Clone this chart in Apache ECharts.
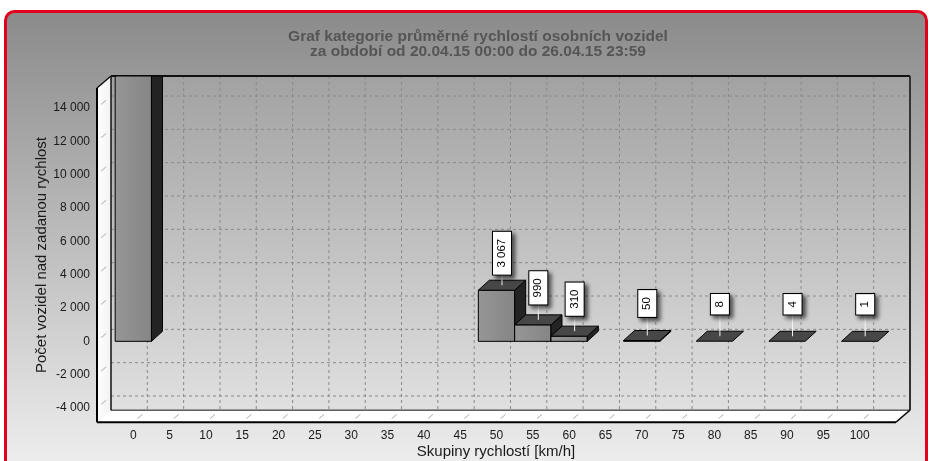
<!DOCTYPE html>
<html><head><meta charset="utf-8">
<script src="https://cdn.jsdelivr.net/npm/echarts@6/dist/echarts.min.js"></script>
<style>html,body{margin:0;padding:0;background:#fff}#c{width:931px;height:461px}</style>
</head><body><div id="c"></div>
<script>
// ---- data ----
const titleLines = ['Graf kategorie průměrné rychlostí osobních vozidel', 'za období od 20.04.15 00:00 do 26.04.15 23:59'];
const xAxisName = 'Skupiny rychlostí [km/h]';
const yAxisName = 'Počet vozidel nad zadanou rychlost';
const speedGroups = [0, 50, 55, 60, 70, 80, 90, 100];
const vehicleCounts = [18000, 3067, 990, 310, 50, 8, 4, 1];
const xTicks = [0, 5, 10, 15, 20, 25, 30, 35, 40, 45, 50, 55, 60, 65, 70, 75, 80, 85, 90, 95, 100];
const yTicks = [-4000, -2000, 0, 2000, 4000, 6000, 8000, 10000, 12000, 14000];

// ---- layout / style constants ----
const X_MIN = -5, X_MAX = 105;          // x axis range
const Y_LOW = -4850, Y_HIGH = 15200;     // extent of the 3D box walls
const WDX = 14, WDY = -12;               // wall depth in px
const BDX = 11, BDY = -10;               // bar depth in px
const BAR_HALF = 2.5;                    // half bar width in axis units
const LABEL_RISE = 32;
const FONT = '"Liberation Sans", Arial, sans-serif';

function fmt(v) {
  const s = String(Math.abs(v)).replace(/\B(?=(\d{3})+(?!\d))/g, ' ');
  return (v < 0 ? '-' : '') + s;
}
const G = echarts.graphic;

function renderFrame(params, api) {
  const lb = api.coord([X_MIN, Y_LOW]), rb = api.coord([X_MAX, Y_LOW]), lt = api.coord([X_MIN, Y_HIGH]);
  const L = lb[0], R = rb[0], T = lt[1], B = lb[1];
  const c = [];
  const line = (x1, y1, x2, y2, stroke, w, dash) => c.push({type: 'line', shape: {x1, y1, x2, y2}, style: {stroke, lineWidth: w, lineDash: dash || null}});
  // back wall
  c.push({type: 'polygon', shape: {points: [[L + WDX, T + WDY], [R + WDX, T + WDY], [R + WDX, B + WDY], [L + WDX, B + WDY]]},
    style: {fill: new G.LinearGradient(0, 0, 0, 1, [{offset: 0, color: '#a2a2a2'}, {offset: 1, color: '#e0e0e0'}])}});
  // left wall
  c.push({type: 'polygon', shape: {points: [[L, T], [L + WDX, T + WDY], [L + WDX, B + WDY], [L, B]]},
    style: {fill: new G.LinearGradient(0, 0, 1, 0, [{offset: 0, color: '#ffffff'}, {offset: 1, color: '#f2f2f2'}])}});
  // floor
  c.push({type: 'polygon', shape: {points: [[L, B], [L + WDX, B + WDY], [R + WDX, B + WDY], [R, B]]}, style: {fill: '#ffffff'}});
  // back wall grid
  yTicks.forEach(v => {
    const y = api.coord([X_MIN, v])[1];
    line(L + WDX, y + WDY, R + WDX, y + WDY, '#8a8a8a', 1, [3, 3]);
    line(L + WDX * 0.3, y + WDY * 0.3, L + WDX * 0.65, y + WDY * 0.65, '#aaaaaa', 1);
  });
  xTicks.forEach(v => {
    const x = api.coord([v, Y_LOW])[0];
    line(x + WDX, T + WDY, x + WDX, B + WDY, '#8a8a8a', 1, [3, 3]);
    line(x + WDX * 0.3, B + WDY * 0.3, x + WDX * 0.65, B + WDY * 0.65, '#aaaaaa', 1);
  });
  // edges
  line(L + WDX, T + WDY, R + WDX, T + WDY, '#111', 2);
  line(R + WDX, T + WDY, R + WDX, B + WDY, '#333', 2);
  line(L + WDX, T + WDY, L + WDX, B + WDY, '#111', 1.5);
  line(L + WDX, B + WDY, R + WDX, B + WDY, '#111', 1);
  line(R, B, R + WDX, B + WDY, '#111', 1.5);
  line(L, T, L + WDX, T + WDY, '#111', 1.5);
  line(L, T, L, B, '#000', 2);
  line(L, B, R, B, '#000', 2);
  return {type: 'group', children: c};
}

function renderBar(params, api) {
  const x = api.value(0), v = api.value(1);
  const p0 = api.coord([x - BAR_HALF, 0]), p1 = api.coord([x + BAR_HALF, v]);
  const xl = p0[0], xr = p1[0], yb = p0[1];
  let yt = p1[1];
  const clipTop = api.coord([X_MIN, Y_HIGH])[1] + WDY;
  const clipped = yt < clipTop;
  if (clipped) yt = clipTop;
  const c = [];
  const edge = {stroke: '#000', lineWidth: 1, lineJoin: 'round'};
  if (yb - yt > 0.8) {
    c.push({type: 'polygon', shape: {points: [[xl, yt], [xr, yt], [xr, yb], [xl, yb]]},
      style: Object.assign({fill: new G.LinearGradient(0, 0, 1, 0, [{offset: 0, color: '#969696'}, {offset: 1, color: '#858585'}])}, edge)});
    const bt = clipped ? yt : yt + BDY;
    c.push({type: 'polygon', shape: {points: [[xr, yt], [xr + BDX, bt], [xr + BDX, yb + BDY], [xr, yb]]},
      style: Object.assign({fill: '#232323'}, edge)});
  }
  if (!clipped) {
    c.push({type: 'polygon', shape: {points: [[xl, yt], [xl + BDX, yt + BDY], [xr + BDX, yt + BDY], [xr, yt]]},
      style: Object.assign({fill: '#474747'}, edge)});
    const cx = (xl + xr) / 2 + BDX / 2, cy = yt + BDY / 2;
    c.push({type: 'line', z2: 5, shape: {x1: cx, y1: cy, x2: cx, y2: cy - LABEL_RISE}, style: {stroke: '#f4f4f4', lineWidth: 1}});
    c.push({type: 'text', z2: 10, x: cx, y: cy - LABEL_RISE, rotation: Math.PI / 2,
      style: {text: fmt(v), font: '11.5px ' + FONT, fill: '#000', align: 'center', verticalAlign: 'middle',
        backgroundColor: '#fff', borderColor: '#000', borderWidth: 1, padding: [3, 7],
        shadowColor: 'rgba(0,0,0,0.6)', shadowBlur: 4, shadowOffsetX: 3, shadowOffsetY: 3}});
  }
  return {type: 'group', children: c};
}

const chart = echarts.init(document.getElementById('c'), null, {renderer: 'canvas'});
chart.setOption({
  animation: false,
  backgroundColor: '#ffffff',
  title: {
    text: titleLines.join('\n'), left: 478, top: 29, padding: 0, textAlign: 'center',
    textStyle: {fontSize: 15.5, fontWeight: 'bold', color: '#555555', lineHeight: 15, fontFamily: FONT}
  },
  graphic: [
    {type: 'rect', z: -10, silent: true, shape: {x: 5.5, y: 11.5, width: 921, height: 490, r: [9, 9, 0, 0]},
      style: {fill: new G.LinearGradient(0, 0, 0, 1, [{offset: 0, color: '#8a8a8a'}, {offset: 1, color: '#f6f6f6'}]), stroke: '#e2001c', lineWidth: 3}},
    {type: 'text', x: 42, y: 255, rotation: Math.PI / 2, silent: true,
      style: {text: yAxisName, font: '15px ' + FONT, fill: '#1a1a1a', align: 'center', verticalAlign: 'middle'}},
    {type: 'text', x: 496, y: 452, silent: true,
      style: {text: xAxisName, font: '15px ' + FONT, fill: '#1a1a1a', align: 'center', verticalAlign: 'middle'}}
  ],
  grid: {left: 97, right: 35, top: 108, bottom: 53, containLabel: false},
  xAxis: {
    type: 'value', min: X_MIN, max: X_MAX, interval: 5, offset: 14,
    axisLine: {show: false},
    axisTick: {show: true, length: 5, lineStyle: {color: '#000'}},
    minorTick: {show: true, splitNumber: 5, length: 3, lineStyle: {color: '#000'}},
    splitLine: {show: false},
    axisLabel: {margin: 8, fontSize: 12, color: '#1a1a1a', fontFamily: FONT,
      formatter: v => (xTicks.indexOf(v) >= 0 ? String(v) : '')}
  },
  yAxis: {
    type: 'value', min: yTicks[0], max: yTicks[yTicks.length - 1], interval: 2000,
    axisLine: {show: false},
    axisTick: {show: true, length: 4, lineStyle: {color: '#000'}},
    splitLine: {show: false},
    axisLabel: {margin: 7, fontSize: 12, color: '#1a1a1a', fontFamily: FONT, formatter: v => fmt(v)}
  },
  series: [
    {type: 'custom', z: 1, silent: true, renderItem: renderFrame, data: [[0, 0]]},
    {type: 'custom', z: 3, silent: true, renderItem: renderBar,
      data: speedGroups.map((s, i) => [s, vehicleCounts[i]])}
  ]
});
</script></body></html>
